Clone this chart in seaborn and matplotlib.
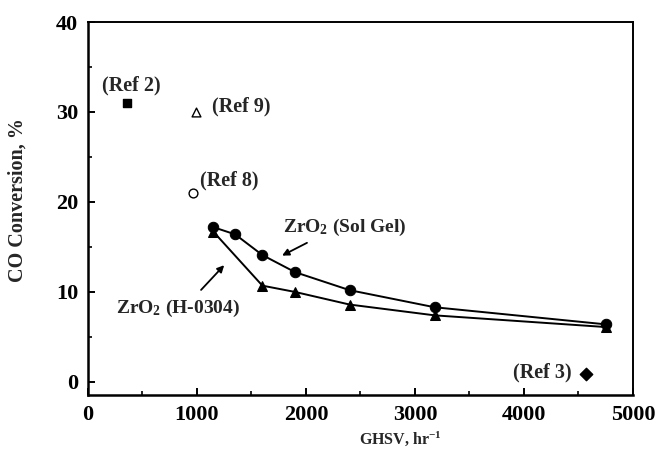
import matplotlib
matplotlib.use("Agg")
import matplotlib.pyplot as plt
from matplotlib.ticker import MultipleLocator
import seaborn as sns
import pandas as pd

# GHSV (hr^-1) and CO conversion (%) for the two ZrO2 catalysts
sol_gel_x = [1150, 1350, 1600, 1900, 2400, 3180, 4750]
sol_gel_y = [17.2, 16.4, 14.1, 12.2, 10.2, 8.3, 6.4]
h0304_x = [1150, 1600, 1900, 2400, 3180, 4750]
h0304_y = [16.7, 10.7, 10.0, 8.6, 7.4, 6.1]

# Literature points
ref_names = ["(Ref 2)", "(Ref 9)", "(Ref 8)", "(Ref 3)"]
ref_x = [360, 990, 965, 4570]
ref_y = [31.0, 30.0, 21.0, 0.9]

sns.set_theme(style="ticks")
plt.rcParams.update({
    "font.family": ["Liberation Serif", "DejaVu Serif"],
    "font.weight": "bold",
    "axes.labelweight": "bold",
    "mathtext.fontset": "custom",
    "mathtext.rm": "Liberation Serif:bold",
    "mathtext.bf": "Liberation Serif:bold",
    "mathtext.default": "rm",
    "axes.linewidth": 1.8,
    "axes.edgecolor": "black",
    "xtick.direction": "in",
    "ytick.direction": "in",
    "xtick.color": "black",
    "ytick.color": "black",
})

fig = plt.figure(figsize=(6.58, 4.49), dpi=100)
ax = fig.add_axes([0.1337, 0.1203, 0.8283, 0.8307])

sg = pd.DataFrame({"x": sol_gel_x, "y": sol_gel_y})
hp = pd.DataFrame({"x": h0304_x, "y": h0304_y})
sns.lineplot(data=sg, x="x", y="y", ax=ax, color="black", lw=1.4,
             marker="o", markersize=7.5, markeredgecolor="black", sort=False)
sns.lineplot(data=hp, x="x", y="y", ax=ax, color="black", lw=1.4,
             marker="^", markersize=7, markeredgecolor="black", sort=False)

ref_markers = {"(Ref 2)": "s", "(Ref 9)": "^", "(Ref 8)": "o", "(Ref 3)": "D"}
ref_face = {"(Ref 2)": "black", "(Ref 9)": "white", "(Ref 8)": "white", "(Ref 3)": "black"}
for name, rx, ry in zip(ref_names, ref_x, ref_y):
    sns.scatterplot(x=[rx], y=[ry], ax=ax, marker=ref_markers[name],
                    s=40, color=ref_face[name], edgecolor="black",
                    linewidth=1.0, zorder=5)

label_pos = {"(Ref 2)": (400, 32.9), "(Ref 9)": (1410, 30.6),
             "(Ref 8)": (1295, 22.4), "(Ref 3)": (4165, 1.1)}
for name, (tx, ty) in label_pos.items():
    ax.text(tx, ty, name, ha="center", va="center", fontsize=14.5, fontweight="bold")

ax.text(1790, 17.2, "ZrO$_2$ (Sol Gel)", ha="left", va="center", fontsize=14)
ax.annotate("", xy=(1758, 13.9), xytext=(2032, 15.6),
            arrowprops=dict(arrowstyle="-|>", color="black", lw=1.3,
                            mutation_scale=10))
ax.text(255, 8.2, "ZrO$_2$ (H-0304)", ha="left", va="center", fontsize=14)
ax.annotate("", xy=(1267, 13.2), xytext=(1020, 10.0),
            arrowprops=dict(arrowstyle="-|>", color="black", lw=1.3,
                            mutation_scale=10))

ax.set_xlim(0, 5000)
ax.set_ylim(-1.45, 40)
ax.xaxis.set_major_locator(MultipleLocator(1000))
ax.xaxis.set_minor_locator(MultipleLocator(500))
ax.yaxis.set_major_locator(MultipleLocator(10))
ax.yaxis.set_minor_locator(MultipleLocator(5))
ax.tick_params(which="major", length=5, width=1.4, labelsize=16, pad=7)
ax.tick_params(which="minor", length=3, width=1.2)
for lab in ax.get_xticklabels() + ax.get_yticklabels():
    lab.set_fontweight("bold")

ax.set_xlabel("GHSV, hr$^{-1}$", fontsize=11.5, fontweight="bold")
ax.set_ylabel("CO Conversion, %", fontsize=14.5, fontweight="bold")
ax.xaxis.set_label_coords(0.574, -0.093)
ax.yaxis.set_label_coords(-0.11, 0.523)

for side in ["top", "right"]:
    ax.spines[side].set_visible(True)
    ax.spines[side].set_linewidth(1.4)

fig.savefig("out.png", dpi=100, facecolor="white")
